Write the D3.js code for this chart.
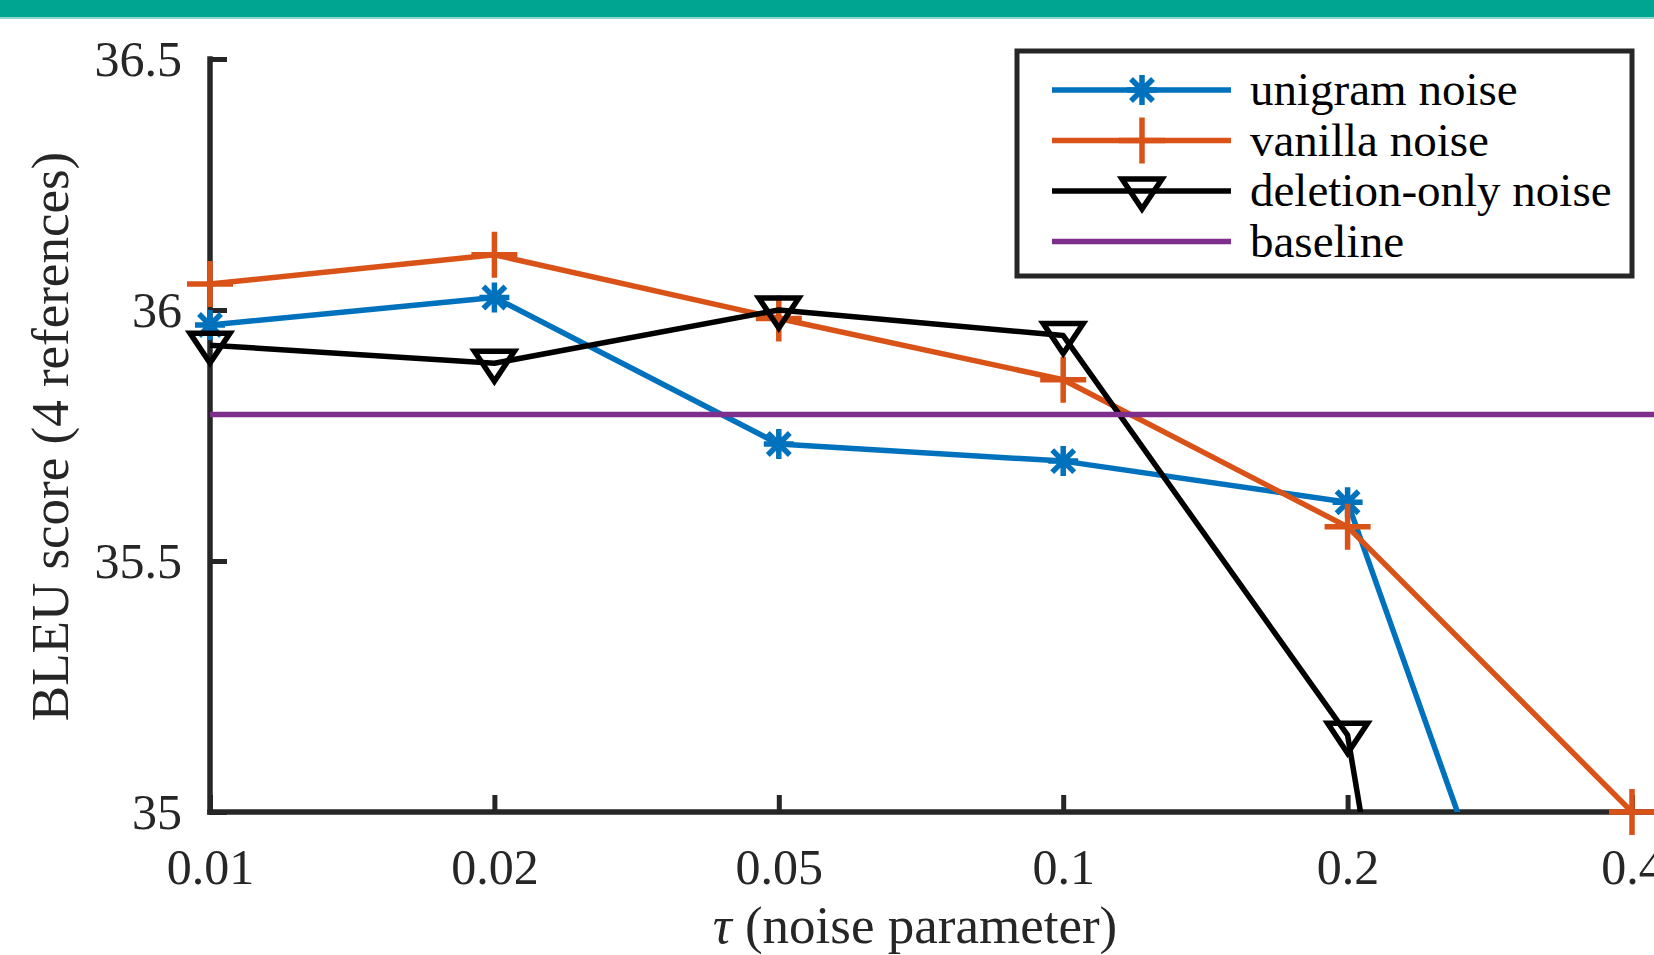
<!DOCTYPE html>
<html>
<head>
<meta charset="utf-8">
<script src="https://cdn.jsdelivr.net/npm/d3@7"></script>
<style>
body { margin: 0; background: #fff; }
text { font-family: "Liberation Serif", "Times New Roman", serif; }
</style>
</head>
<body>
<svg id="chart" width="1654" height="955"></svg>
<script>
// values
var taus = ["0.01", "0.02", "0.05", "0.1", "0.2", "0.4"];
var unigramNoise = [35.970, 36.025, 35.733, 35.699, 35.617, 34.02];
var vanillaNoise = [36.052, 36.110, 35.983, 35.861, 35.568, 35.0];
var deletionNoise = [35.930, 35.894, 36.000, 35.949, 35.153, 31.78];
var baselineScore = 35.792;
var yTicks = [35, 35.5, 36, 36.5];
var seriesNames = ["unigram noise", "vanilla noise", "deletion-only noise", "baseline"];

var svg = d3.select("#chart");
var width = +svg.attr("width");
var height = +svg.attr("height");

var axisColor = "#262626";
var lineWidth = 5.5;
var colors = { unigram: "#0072BD", vanilla: "#D95319", deletion: "#000000", baseline: "#7E2F8E" };

// top banner
svg.append("rect").attr("x", 0).attr("y", 0).attr("width", width).attr("height", 17).attr("fill", "#00a592");
svg.append("rect").attr("x", 0).attr("y", 17).attr("width", width).attr("height", 2).attr("fill", "#8fd6cc");

var x = d3.scalePoint().domain(taus).range([210, 1632]);
var y = d3.scaleLinear().domain([35, 36.5]).range([812, 59]);

// axes (only left and bottom, ticks pointing inward)
var leftAxis = d3.axisLeft(y).tickValues(yTicks).tickFormat(d3.format("")).tickSizeInner(-17).tickSizeOuter(0).tickPadding(28);
var gy = svg.append("g").attr("transform", "translate(" + x(taus[0]) + ",0)").call(leftAxis);

var bottomAxis = d3.axisBottom(x).tickSizeInner(-17).tickSizeOuter(0).tickPadding(36);
var gx = svg.append("g").attr("transform", "translate(0," + y(35) + ")").call(bottomAxis);

[gx, gy].forEach(function (g) {
  g.select(".domain").remove();
  g.selectAll(".tick line").attr("stroke", axisColor).attr("stroke-width", 5);
  g.selectAll(".tick text").attr("fill", axisColor).style("font-size", "50px")
    .style("font-family", "'Liberation Serif', 'Times New Roman', serif");
});

// axis lines
svg.append("line")
  .attr("x1", x(taus[0])).attr("x2", x(taus[0]))
  .attr("y1", y(36.5)).attr("y2", y(35))
  .attr("stroke", axisColor).attr("stroke-width", 5.5).attr("stroke-linecap", "square");
svg.append("line")
  .attr("x1", x(taus[0])).attr("x2", width)
  .attr("y1", y(35)).attr("y2", y(35))
  .attr("stroke", axisColor).attr("stroke-width", 5.5).attr("stroke-linecap", "square");

// axis labels
svg.append("text")
  .attr("transform", "translate(68," + ((y(35) + y(36.5)) / 2 + 1) + ")rotate(-90)")
  .attr("text-anchor", "middle")
  .attr("fill", axisColor)
  .style("font-size", "53px")
  .text("BLEU score (4 references)");

var xLabel = svg.append("text")
  .attr("x", 915).attr("y", 943)
  .attr("text-anchor", "middle")
  .attr("fill", axisColor)
  .style("font-size", "53px");
xLabel.append("tspan").style("font-style", "italic").text("\u03C4");
xLabel.append("tspan").text(" (noise parameter)");

// clip for data lines
svg.append("clipPath").attr("id", "plotClip")
  .append("rect")
  .attr("x", x(taus[0]) - 30).attr("y", y(36.5))
  .attr("width", width).attr("height", y(35) - y(36.5));

var line = d3.line()
  .x(function (d, i) { return x(taus[i]); })
  .y(function (d) { return y(d); });

function markerPath(type) {
  if (type === "asterisk") {
    var r = 15, q = 11;
    return "M" + -r + ",0H" + r + "M0," + -r + "V" + r +
      "M" + -q + "," + -q + "L" + q + "," + q + "M" + -q + "," + q + "L" + q + "," + -q;
  }
  if (type === "plus") {
    var p = 23;
    return "M" + -p + ",0H" + p + "M0," + -p + "V" + p;
  }
  // downward triangle
  return "M-20,-12L20,-12L0,18Z";
}

function plotSeries(values, color, marker) {
  svg.append("path")
    .datum(values)
    .attr("clip-path", "url(#plotClip)")
    .attr("d", line)
    .attr("fill", "none")
    .attr("stroke", color)
    .attr("stroke-width", lineWidth)
    .attr("stroke-linejoin", "round");

  values.forEach(function (v, i) {
    if (v < y.domain()[0] || v > y.domain()[1]) return; // marker outside axes is not drawn
    svg.append("path")
      .attr("transform", "translate(" + x(taus[i]) + "," + y(v) + ")")
      .attr("d", markerPath(marker))
      .attr("fill", "none")
      .attr("stroke", color)
      .attr("stroke-width", lineWidth);
  });
}

plotSeries(unigramNoise, colors.unigram, "asterisk");
plotSeries(vanillaNoise, colors.vanilla, "plus");
plotSeries(deletionNoise, colors.deletion, "triangle");

svg.append("line")
  .attr("x1", x(taus[0])).attr("x2", width)
  .attr("y1", y(baselineScore)).attr("y2", y(baselineScore))
  .attr("stroke", colors.baseline)
  .attr("stroke-width", lineWidth);

// legend
var legend = svg.append("g");
legend.append("rect")
  .attr("x", 1017).attr("y", 51).attr("width", 615).attr("height", 225)
  .attr("fill", "#fff").attr("stroke", axisColor).attr("stroke-width", 5);

var legendItems = [
  { name: seriesNames[0], color: colors.unigram, marker: "asterisk" },
  { name: seriesNames[1], color: colors.vanilla, marker: "plus" },
  { name: seriesNames[2], color: colors.deletion, marker: "triangle" },
  { name: seriesNames[3], color: colors.baseline, marker: null }
];

legendItems.forEach(function (item, i) {
  var ly = 90 + i * 50.5;
  legend.append("line")
    .attr("x1", 1052).attr("x2", 1231)
    .attr("y1", ly).attr("y2", ly)
    .attr("stroke", item.color).attr("stroke-width", lineWidth);
  if (item.marker) {
    legend.append("path")
      .attr("transform", "translate(1142," + ly + ")")
      .attr("d", markerPath(item.marker))
      .attr("fill", "none")
      .attr("stroke", item.color)
      .attr("stroke-width", lineWidth);
  }
  legend.append("text")
    .attr("x", 1250).attr("y", ly)
    .attr("dy", "0.32em")
    .attr("fill", "#000")
    .style("font-size", "47px")
    .text(item.name);
});
</script>
</body>
</html>
